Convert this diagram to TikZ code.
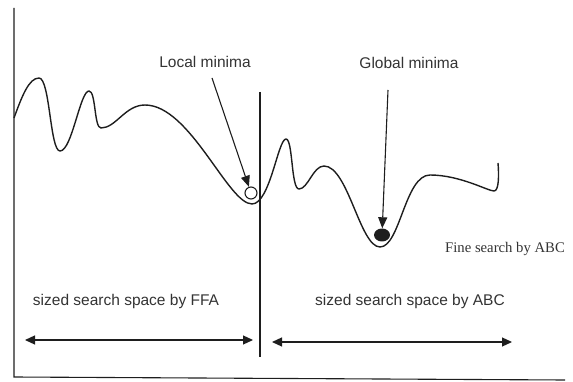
\documentclass[tikz,border=0pt]{standalone}
\usepackage{fontspec}
\setmainfont{Liberation Serif}
\setsansfont{Liberation Sans}
\usetikzlibrary{arrows.meta,shapes.geometric}
\definecolor{ink}{HTML}{1E1E1E}
\definecolor{labelgray}{HTML}{333333}
\begin{document}
\begin{tikzpicture}[x=1pt,y=-1pt,
  axis/.style={draw=ink,line width=1.1pt},
  landscape/.style={draw=ink,line width=1.4pt,line join=round},
  pointer/.style={draw=ink,line width=1.1pt,-{Triangle[length=11pt,width=9pt]}},
  span/.style={draw=ink,line width=1.2pt,{Triangle[length=10pt,width=9pt]}-{Triangle[length=10pt,width=9pt]}},
  lbl/.style={font=\sffamily\fontsize{15.5}{18}\selectfont,text=labelgray,anchor=base,inner sep=0pt},
  serifnote/.style={font=\rmfamily\fontsize{14.7}{17}\selectfont,text=labelgray,anchor=base,inner sep=0pt}]
\useasboundingbox (0,0) rectangle (573,382);

% axes and the dividing line
\coordinate (ytop) at (14,8);
\coordinate (origin) at (14,377);
\coordinate (xend) at (565,380);
\coordinate (divtop) at (260,92);
\coordinate (divbot) at (260,357);
\draw[axis] (ytop) -- (origin) -- (xend);
\draw[axis] (divtop) -- (divbot);

% fitness landscape
\draw[landscape] (14,118)
  .. controls (22,96) and (29,78) .. (39,78)
  .. controls (50,78) and (50,151) .. (60,151)
  .. controls (72,151) and (80,91) .. (89,91)
  .. controls (96,91) and (94,128) .. (101,128)
  .. controls (116,128) and (125,105) .. (145,105)
  .. controls (190,105) and (228,204) .. (252,204)
  .. controls (270,204) and (278,139) .. (286,139)
  .. controls (293,139) and (291,189) .. (299,189)
  .. controls (308,189) and (313,166) .. (324,166)
  .. controls (348,166) and (360,247) .. (380,247)
  .. controls (400,247) and (405,175) .. (430,175)
  .. controls (460,175) and (488,191) .. (494,191)
  .. controls (499,191) and (499,175) .. (498,163);

% minima markers
\node[circle,draw=ink,line width=1.1pt,fill=white,minimum size=12pt,inner sep=0pt] (lmin) at (251,193) {};
\node[ellipse,fill=ink,minimum width=16pt,minimum height=13pt,inner sep=0pt] (gmin) at (382,235) {};

% labels and pointers
\node[lbl] (lmlabel) at (205,68) {Local minima};
\node[lbl] (gmlabel) at (409,69) {Global minima};
\coordinate (lmtail) at (212,78);
\coordinate (gmtail) at (388,90);
\draw[pointer] (lmtail) -- (lmin);
\draw[pointer] (gmtail) -- (gmin);

\node[serifnote] (fine) at (505,252) {Fine search by ABC};

% search space extents
\node[lbl] (ffa) at (126,305) {sized search space by FFA};
\node[lbl] (abc) at (410,305) {sized search space by ABC};
\coordinate (ffaL) at (25,340);
\coordinate (ffaR) at (253,340);
\coordinate (abcL) at (272,342);
\coordinate (abcR) at (512,342);
\draw[span] (ffaL) -- (ffaR);
\draw[span] (abcL) -- (abcR);
\end{tikzpicture}
\end{document}
